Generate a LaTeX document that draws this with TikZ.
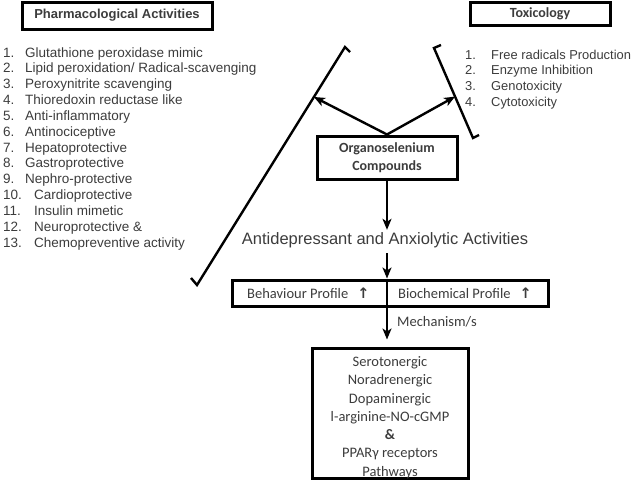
\documentclass[tikz,border=0pt]{standalone}
\usepackage{fontspec}
\setmainfont{Liberation Sans}
\newfontfamily\calib{Carlito}
\newfontfamily\djv{DejaVu Sans}
\usetikzlibrary{arrows.meta,calc}
\definecolor{txt}{HTML}{3C3C3C}
\tikzset{
  lst/.style={anchor=base west,inner sep=0pt,text=txt,font=\fontsize{13.5}{15}\selectfont},
  tlst/.style={anchor=base west,inner sep=0pt,text=txt,font=\fontsize{12.9}{15}\selectfont},
  tlbox/.style={draw=black,line width=3pt,text=txt,inner sep=0pt},
  arr/.style={line width=2.4pt,-{Stealth[length=11pt,width=9pt,inset=3pt]}},
  brk/.style={line width=2.4pt,line join=miter},
  cal/.style={text=txt,font=\calib\fontsize{14.5}{18.3}\selectfont}
}
\begin{document}
\begin{tikzpicture}[x=1pt,y=-1pt]
\useasboundingbox (0,0) rectangle (633,483);
% title boxes
\node[tlbox,minimum width=190pt,minimum height=27pt,font=\bfseries\fontsize{13}{15}\selectfont] (pharm) at (117,15.5) {Pharmacological Activities};
\node[tlbox,minimum width=140pt,minimum height=23pt,font=\calib\bfseries\fontsize{14}{16}\selectfont] (tox) at (540,13.5) {Toxicology};
% pharmacological list
\node[lst] (p1) at (3,57) {1.};
\node[lst] (t1) at (25,57) {Glutathione peroxidase mimic};
\node[lst] (p2) at (3,72.8) {2.};
\node[lst] (t2) at (25,72.8) {Lipid peroxidation/ Radical-scavenging};
\node[lst] (p3) at (3,88.7) {3.};
\node[lst] (t3) at (25,88.7) {Peroxynitrite scavenging};
\node[lst] (p4) at (3,104.5) {4.};
\node[lst] (t4) at (25,104.5) {Thioredoxin reductase like};
\node[lst] (p5) at (3,120.3) {5.};
\node[lst] (t5) at (25,120.3) {Anti-inflammatory};
\node[lst] (p6) at (3,136.2) {6.};
\node[lst] (t6) at (25,136.2) {Antinociceptive};
\node[lst] (p7) at (3,152) {7.};
\node[lst] (t7) at (25,152) {Hepatoprotective};
\node[lst] (p8) at (3,167.8) {8.};
\node[lst] (t8) at (25,167.8) {Gastroprotective};
\node[lst] (p9) at (3,183.7) {9.};
\node[lst] (t9) at (25,183.7) {Nephro-protective};
\node[lst] (p10) at (3,199.5) {10.};
\node[lst] (t10) at (34,199.5) {Cardioprotective};
\node[lst] (p11) at (3,215.3) {11.};
\node[lst] (t11) at (34,215.3) {Insulin mimetic};
\node[lst] (p12) at (3,231.2) {12.};
\node[lst] (t12) at (34,231.2) {Neuroprotective \&};
\node[lst] (p13) at (3,247) {13.};
\node[lst] (t13) at (34,247) {Chemopreventive activity};
% toxicology list
\node[tlst] (q1) at (465,59) {1.};
\node[tlst] (u1) at (491,59) {Free radicals Production};
\node[tlst] (q2) at (465,74.8) {2.};
\node[tlst] (u2) at (491,74.8) {Enzyme Inhibition};
\node[tlst] (q3) at (465,90.7) {3.};
\node[tlst] (u3) at (491,90.7) {Genotoxicity};
\node[tlst] (q4) at (465,106.5) {4.};
\node[tlst] (u4) at (491,106.5) {Cytotoxicity};
% brackets
\coordinate (lbh) at (191,278);
\coordinate (lb) at (197,285);
\coordinate (lt) at (345,47);
\coordinate (lth) at (350,52);
\draw[brk] (lbh) -- (lb) -- (lt) -- (lth);
\coordinate (rth) at (441,45);
\coordinate (rt) at (434,48);
\coordinate (rb) at (473,138);
\coordinate (rbh) at (479,135);
\draw[brk] (rth) -- (rt) -- (rb) -- (rbh);
% central box
\node[tlbox,minimum width=140pt,minimum height=43pt,align=center,font=\calib\bfseries\fontsize{14}{18}\selectfont] (organ) at (387,157.5) {Organoselenium\\Compounds};
\draw[arr] (organ.north) -- ($(lb)!0.79!(lt)$);
\draw[arr] (organ.north) -- ($(rt)!0.54!(rb)$);
% antidepressant
\node[text=txt,font=\fontsize{16.5}{19}\selectfont,text height=12.5pt,text depth=3.5pt,inner xsep=0pt,inner ysep=2pt] (ad) at (385,240) {Antidepressant and Anxiolytic Activities};
\draw[arr] (organ.south) -- (organ.south |- ad.north);
% profile box
\node[tlbox,minimum width=316pt,minimum height=26pt] (prof) at (390,293) {};
\node[cal,anchor=west,inner sep=0pt] (beh) at (247,293) {Behaviour Profile\hspace{9pt}{\djv\bfseries ↑}};
\node[cal,anchor=west,inner sep=0pt] (bio) at (398,293) {Biochemical Profile\hspace{9pt}{\djv\bfseries ↑}};
\draw[arr] ($(organ.south |- ad.south)+(0,3)$) -- (organ.south |- prof.north);
\draw[line width=2.4pt] (organ.south |- prof.north) -- (organ.south |- prof.south);
% mechanism box
\node[tlbox,minimum width=156pt,minimum height=130pt] (mech) at (390,413) {};
\node[align=center,cal,inner sep=0pt] (mechtxt) at (390,417.5) {Serotonergic\\Noradrenergic\\Dopaminergic\\l-arginine-NO-cGMP\\\textbf{\&}\\PPARγ receptors\\Pathways};
\draw[arr] (organ.south |- prof.south) -- ($(organ.south |- mech.north)+(0,-7)$);
\node[cal,anchor=west,inner sep=0pt] (mechlbl) at (397,322) {Mechanism/s};
\end{tikzpicture}
\end{document}
